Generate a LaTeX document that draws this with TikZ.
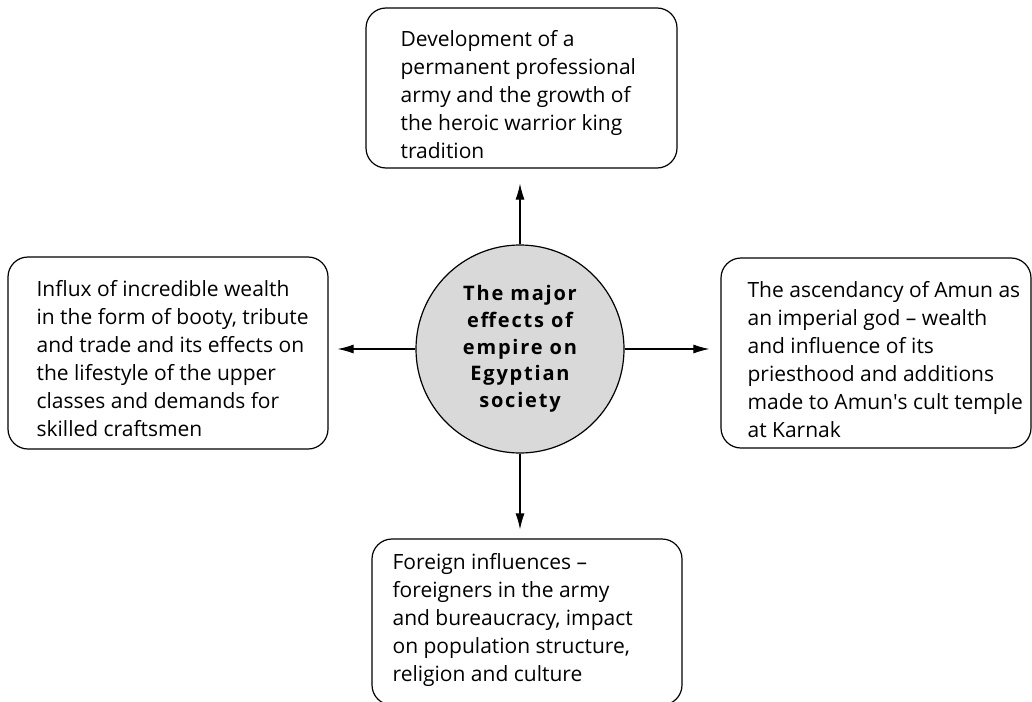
\documentclass[tikz,border=0pt]{standalone}
\usepackage{fontspec}
\setmainfont{Open Sans}
\usetikzlibrary{arrows.meta}

\begin{document}
\begin{tikzpicture}[x=1pt, y=1pt, >={Latex[length=16pt, width=9pt]},
  box/.style={draw, line width=1.2pt, rounded corners=20pt, inner sep=0pt},
  txt/.style={anchor=north west, inner sep=0pt, align=left, font=\fontsize{21}{28}\selectfont},
  hub/.style={draw, circle, line width=1.2pt, fill=black!15, minimum size=208pt, inner sep=0pt, align=center,
    font=\fontsize{20}{26.7}\selectfont\bfseries\addfontfeatures{LetterSpace=9}},
  link/.style={->, line width=1.1pt}]

\useasboundingbox (0,0) rectangle (1032,-701);

% ---------- centre ----------
\node[hub] (hub) at (520,-349) {The major\\effects of\\empire on\\Egyptian\\society};

% ---------- boxes ----------
\node[box, minimum width=311pt, minimum height=160pt] (army)    at (521.5,-88) {};
\node[box, minimum width=320pt, minimum height=192pt] (wealth)  at (168,-353)  {};
\node[box, minimum width=310pt, minimum height=190pt] (amun)    at (876,-353)  {};
\node[box, minimum width=310pt, minimum height=166pt] (foreign) at (527,-622)  {};

% ---------- texts ----------
\node[txt] (armytext) at ([shift={(35,-23)}]army.north west)
  {Development of a\\permanent professional\\army and the growth of\\the heroic warrior king\\tradition};
\node[txt] (wealthtext) at ([shift={(29,-24)}]wealth.north west)
  {Influx of incredible wealth\\in the form of booty, tribute\\and trade and its effects on\\the lifestyle of the upper\\classes and demands for\\skilled craftsmen};
\node[txt] (amuntext) at ([shift={(27,-24)}]amun.north west)
  {The ascendancy of Amun as\\an imperial god -- wealth\\and influence of its\\priesthood and additions\\made to Amun\textquotesingle s cult temple\\at Karnak};
\node[txt] (foreigntext) at ([shift={(21,-15)}]foreign.north west)
  {Foreign influences --\\foreigners in the army\\and bureaucracy, impact\\on population structure,\\religion and culture};

% ---------- arrows ----------
\draw[link, shorten >=15pt] (hub) -- (hub |- army.south);
\draw[link, shorten >=9pt]  (hub) -- (hub -| wealth.east);
\draw[link, shorten >=11pt] (hub) -- (hub -| amun.west);
\draw[link, shorten >=9pt]  (hub) -- (hub |- foreign.north);

\end{tikzpicture}
\end{document}
